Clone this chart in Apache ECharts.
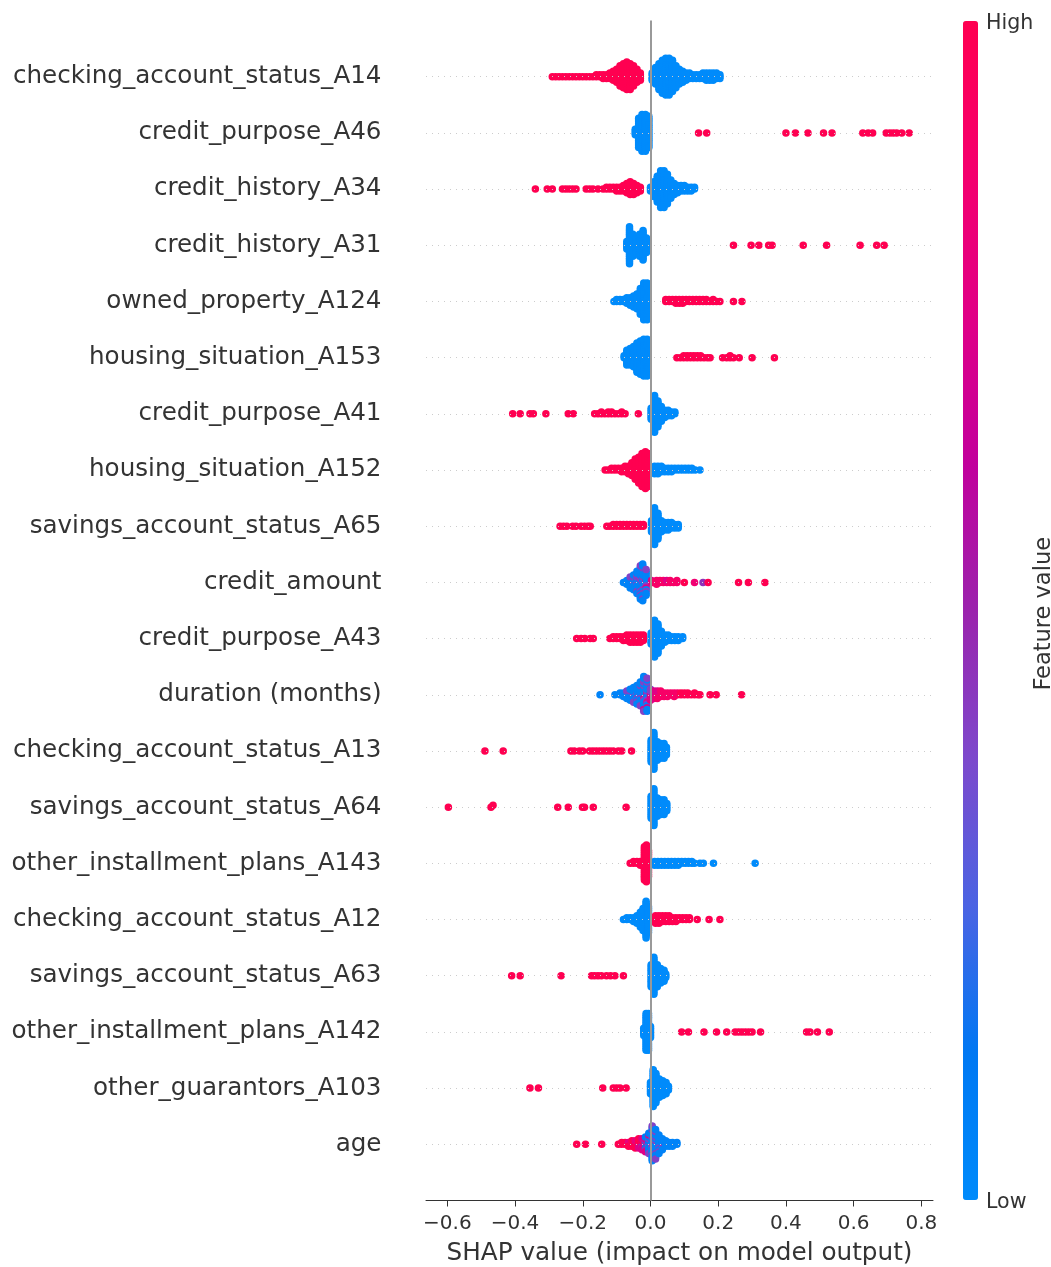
<!DOCTYPE html>
<html>
<head>
<meta charset="utf-8">
<script src="https://cdn.jsdelivr.net/npm/echarts@6/dist/echarts.min.js"></script>
<style>
html,body{margin:0;padding:0;background:#ffffff;}
#chart{width:1051px;height:1267px;}
</style>
</head>
<body>
<div id="chart"></div>
<script>
// Feature labels, top to bottom
const featureNames = [
  'checking_account_status_A14','credit_purpose_A46','credit_history_A34','credit_history_A31',
  'owned_property_A124','housing_situation_A153','credit_purpose_A41','housing_situation_A152',
  'savings_account_status_A65','credit_amount','credit_purpose_A43','duration (months)',
  'checking_account_status_A13','savings_account_status_A64','other_installment_plans_A143',
  'checking_account_status_A12','savings_account_status_A63','other_installment_plans_A142',
  'other_guarantors_A103','age'
];

// Each entry: [SHAP value, number of samples at that value, feature value (0 = low, 1 = high)]
const checking_account_status_A14 = [
  [-0.29,1,1],[-0.28,1,1],[-0.27,1,1],[-0.26,1,1],[-0.25,1,1],[-0.24,1,1],[-0.23,1,1],[-0.22,1,1],
  [-0.21,1,1],[-0.20,1,1],[-0.19,1,1],[-0.18,1,1],[-0.17,1,1],[-0.16,2,1],[-0.15,2,1],[-0.14,3,1],
  [-0.13,3,1],[-0.12,4,1],[-0.11,6,1],[-0.10,8,1],[-0.09,12,1],[-0.08,14,1],[-0.07,16,1],[-0.06,15,1],
  [-0.05,12,1],[-0.04,8,1],[-0.03,5,1],
  [0.005,5,0],[0.015,10,0],[0.025,15,0],[0.035,19,0],[0.045,21,0],[0.055,21,0],[0.065,18,0],[0.075,13,0],
  [0.085,9,0],[0.095,7,0],[0.105,5,0],[0.115,4,0],[0.125,3,0],[0.135,3,0],[0.145,3,0],[0.155,4,0],
  [0.165,5,0],[0.175,5,0],[0.185,5,0],[0.195,4,0],[0.205,3,0]
];
const credit_purpose_A46 = [
  [-0.045,4,0],[-0.035,17,0],[-0.025,21,0],[-0.015,21,0],[-0.005,18,0],
  [0.142,1,1],[0.166,1,1],[0.400,1,1],[0.428,1,1],[0.465,1,1],[0.511,1,1],[0.536,1,1],[0.627,1,1],
  [0.643,1,1],[0.656,1,1],[0.696,1,1],[0.707,1,1],[0.717,1,1],[0.727,1,1],[0.742,1,1],[0.764,1,1]
];
const credit_history_A34 = [
  [-0.34,1,1],[-0.305,1,1],[-0.29,1,1],[-0.26,1,1],[-0.25,1,1],[-0.24,1,1],[-0.23,1,1],[-0.22,1,1],
  [-0.19,1,1],[-0.18,1,1],[-0.17,1,1],[-0.155,1,1],[-0.14,1,1],[-0.13,2,1],[-0.12,2,1],[-0.11,2,1],
  [-0.10,3,1],[-0.09,3,1],[-0.08,4,1],[-0.07,6,1],[-0.06,8,1],[-0.05,7,1],[-0.04,5,1],[-0.03,3,1],
  [0.0,3,0],[0.01,9,0],[0.02,15,0],[0.03,21,0],[0.04,21,0],[0.05,17,0],[0.06,11,0],[0.07,7,0],
  [0.08,5,0],[0.09,4,0],[0.10,4,0],[0.11,3,0],[0.12,3,0],[0.13,2,0]
];
const credit_history_A31 = [
  [-0.07,5,0],[-0.062,21,0],[-0.052,13,0],[-0.042,9,0],[-0.032,13,0],[-0.022,17,0],[-0.012,9,0],
  [0.245,1,1],[0.297,1,1],[0.320,1,1],[0.349,1,1],[0.359,1,1],[0.451,1,1],[0.520,1,1],[0.619,1,1],
  [0.668,1,1],[0.690,1,1]
];
const owned_property_A124 = [
  [-0.108,1,0],[-0.10,2,0],[-0.09,2,0],[-0.08,2,0],[-0.07,4,0],[-0.06,5,0],[-0.05,7,0],[-0.04,9,0],
  [-0.03,15,0],[-0.02,21,0],[-0.01,21,0],
  [0.045,2,1],[0.055,2,1],[0.065,2,1],[0.075,3,1],[0.085,3,1],[0.095,3,1],[0.105,2,1],[0.115,2,1],
  [0.125,2,1],[0.135,2,1],[0.145,2,1],[0.155,2,1],[0.165,2,1],[0.175,1,1],[0.185,2,1],[0.195,1,1],
  [0.205,1,1],[0.245,1,1],[0.27,1,1]
];
const housing_situation_A153 = [
  [-0.078,2,0],[-0.07,9,0],[-0.06,10,0],[-0.05,12,0],[-0.04,17,0],[-0.03,19,0],[-0.02,21,0],[-0.01,21,0],
  [0.078,1,1],[0.088,1,1],[0.098,2,1],[0.108,2,1],[0.118,2,1],[0.128,2,1],[0.138,2,1],[0.148,2,1],
  [0.158,1,1],[0.168,1,1],[0.176,1,1],[0.213,1,1],[0.225,1,1],[0.235,2,1],[0.245,1,1],[0.262,1,1],
  [0.30,1,1],[0.366,1,1]
];
const credit_purpose_A41 = [
  [-0.407,1,1],[-0.385,1,1],[-0.356,1,1],[-0.346,1,1],[-0.309,1,1],[-0.243,1,1],[-0.228,1,1],
  [-0.165,1,1],[-0.155,1,1],[-0.145,2,1],[-0.135,1,1],[-0.125,2,1],[-0.115,2,1],[-0.105,1,1],
  [-0.095,1,1],[-0.085,2,1],[-0.075,1,1],[-0.036,1,1],
  [0.002,7,0],[0.012,21,0],[0.022,15,0],[0.032,9,0],[0.042,5,0],[0.052,4,0],[0.062,3,0],[0.072,2,0]
];
const housing_situation_A152 = [
  [-0.134,1,1],[-0.125,1,1],[-0.115,2,1],[-0.105,2,1],[-0.095,2,1],[-0.085,3,1],[-0.075,4,1],
  [-0.065,5,1],[-0.055,8,1],[-0.045,12,1],[-0.035,15,1],[-0.025,19,1],[-0.015,21,1],[-0.007,19,1],
  [0.012,5,0],[0.022,5,0],[0.032,4,0],[0.042,3,0],[0.052,3,0],[0.062,3,0],[0.072,2,0],[0.082,2,0],
  [0.092,2,0],[0.102,2,0],[0.112,2,0],[0.122,2,0],[0.132,1,0],[0.146,1,0]
];
const savings_account_status_A65 = [
  [-0.267,1,1],[-0.257,1,1],[-0.247,1,1],[-0.23,1,1],[-0.22,1,1],[-0.205,1,1],[-0.195,1,1],
  [-0.185,1,1],[-0.178,1,1],
  [-0.129,1,1],[-0.12,1,1],[-0.11,2,1],[-0.10,2,1],[-0.09,2,1],[-0.08,2,1],[-0.07,2,1],[-0.06,2,1],
  [-0.05,2,1],[-0.04,2,1],[-0.03,2,1],[-0.021,2,1],
  [0.003,7,0],[0.012,21,0],[0.022,15,0],[0.032,7,0],[0.042,5,0],[0.052,5,0],[0.062,4,0],[0.072,3,0],
  [0.082,3,0]
];
const credit_amount = [
  [-0.08,1,0.05],[-0.07,3,0.05],[-0.06,6,0.05],[-0.06,1,0.4],[-0.05,7,0.05],[-0.05,2,0.4],
  [-0.04,9,0.05],[-0.04,4,0.4],[-0.03,14,0.05],[-0.03,5,0.4],[-0.023,14,0.05],[-0.023,7,0.4],
  [-0.013,9,0.05],[-0.013,4,0.4],[-0.013,2,0.75],
  [0.003,2,0.75],[0.008,1,0.9],[0.018,2,0.9],[0.018,1,0.75],[0.028,2,0.9],[0.038,2,0.9],
  [0.048,1,0.9],[0.048,1,0.75],[0.058,2,0.9],[0.068,1,0.9],[0.078,2,0.9],[0.10,1,1],[0.13,1,0.85],
  [0.155,1,0.45],[0.17,1,1],[0.26,1,1],[0.289,1,1],[0.338,1,1]
];
const credit_purpose_A43 = [
  [-0.218,1,1],[-0.205,1,1],[-0.194,1,1],[-0.178,1,1],[-0.169,1,1],
  [-0.12,1,1],[-0.11,2,1],[-0.10,2,1],[-0.09,2,1],[-0.08,3,1],[-0.07,4,1],[-0.06,5,1],[-0.05,5,1],
  [-0.04,5,1],[-0.03,5,1],[-0.021,4,1],
  [0.002,7,0],[0.012,21,0],[0.022,17,0],[0.032,9,0],[0.042,5,0],[0.052,4,0],[0.062,3,0],[0.072,3,0],
  [0.082,3,0],[0.095,2,0]
];
const duration_months = [
  [-0.149,1,0.05],[-0.105,1,0.05],[-0.09,2,0.05],[-0.08,3,0.05],[-0.07,4,0.05],[-0.07,1,0.4],
  [-0.06,5,0.05],[-0.06,2,0.4],[-0.05,7,0.05],[-0.05,2,0.4],[-0.04,8,0.05],[-0.04,3,0.4],
  [-0.03,10,0.05],[-0.03,4,0.4],[-0.02,12,0.05],[-0.02,6,0.4],[-0.02,2,0.75],[-0.01,10,0.05],
  [-0.01,6,0.4],[-0.01,3,0.75],[0.0,3,0.4],[0.0,4,0.75],[0.01,4,0.75],[0.01,1,0.9],[0.02,3,0.75],
  [0.02,2,0.9],[0.03,1,0.75],[0.03,3,0.9],[0.04,3,0.9],[0.05,3,0.9],[0.06,2,0.9],[0.07,3,0.9],
  [0.08,2,0.9],[0.09,2,1],[0.10,2,1],[0.11,2,1],[0.12,1,1],[0.13,2,1],[0.14,1,1],[0.146,1,1],
  [0.176,1,1],[0.194,1,1],[0.269,1,1]
];
const checking_account_status_A13 = [
  [-0.489,1,1],[-0.435,1,1],[-0.235,1,1],[-0.225,1,1],[-0.21,1,1],[-0.20,1,1],[-0.18,1,1],[-0.17,1,1],
  [-0.16,1,1],[-0.15,1,1],[-0.14,1,1],[-0.13,1,1],[-0.12,1,1],[-0.11,1,1],[-0.095,1,1],[-0.085,1,1],
  [-0.056,1,1],
  [0.002,13,0],[0.01,21,0],[0.02,11,0],[0.03,9,0],[0.04,9,0],[0.047,5,0]
];
const savings_account_status_A64 = [
  [-0.597,1,1],[-0.471,1,1],[-0.465,1,1],[-0.274,1,1],[-0.243,1,1],[-0.201,1,1],[-0.195,1,1],
  [-0.169,1,1],[-0.072,1,1],
  [0.002,13,0],[0.01,21,0],[0.02,11,0],[0.03,9,0],[0.04,9,0],[0.048,5,0]
];
const other_installment_plans_A143 = [
  [-0.06,1,1],[-0.05,2,1],[-0.04,2,1],[-0.03,3,1],[-0.018,19,1],[-0.012,21,1],[-0.006,15,1],
  [0.012,3,0],[0.022,3,0],[0.032,3,0],[0.042,3,0],[0.052,3,0],[0.062,3,0],[0.072,3,0],[0.082,3,0],
  [0.092,2,0],[0.102,2,0],[0.112,2,0],[0.122,2,0],[0.13,1,0],[0.146,1,0],[0.156,1,0],[0.186,1,0],
  [0.309,1,0]
];
const checking_account_status_A12 = [
  [-0.08,1,0],[-0.07,2,0],[-0.06,2,0],[-0.05,3,0],[-0.04,5,0],[-0.03,9,0],[-0.022,13,0],[-0.013,21,0],
  [-0.006,15,0],
  [0.015,5,1],[0.025,5,1],[0.035,4,1],[0.045,4,1],[0.055,4,1],[0.065,3,1],[0.075,3,1],[0.085,2,1],
  [0.095,2,1],[0.105,2,1],[0.115,2,1],[0.138,1,1],[0.173,1,1],[0.205,1,1]
];
const savings_account_status_A63 = [
  [-0.41,1,1],[-0.385,1,1],[-0.264,1,1],[-0.174,1,1],[-0.165,1,1],[-0.155,1,1],[-0.145,1,1],
  [-0.13,1,1],[-0.118,1,1],[-0.105,1,1],[-0.08,1,1],
  [0.002,13,0],[0.01,21,0],[0.02,13,0],[0.03,9,0],[0.04,7,0],[0.045,3,0]
];
const other_installment_plans_A142 = [
  [-0.02,5,0],[-0.013,21,0],[-0.006,21,0],[0.0,7,0],
  [0.092,1,1],[0.112,1,1],[0.158,1,1],[0.195,1,1],[0.225,1,1],[0.25,1,1],[0.26,1,1],[0.27,1,1],
  [0.28,1,1],[0.29,1,1],[0.30,1,1],[0.325,1,1],[0.461,1,1],[0.471,1,1],[0.493,1,1],[0.528,1,1]
];
const other_guarantors_A103 = [
  [-0.356,1,1],[-0.331,1,1],[-0.141,1,1],[-0.11,1,1],[-0.10,1,1],[-0.09,1,1],[-0.072,1,1],
  [0.0,7,0],[0.008,21,0],[0.016,17,0],[0.026,11,0],[0.036,9,0],[0.046,7,0],[0.053,3,0]
];
const age = [
  [-0.218,1,1],[-0.192,1,1],[-0.144,1,1],[-0.095,1,1],[-0.085,2,1],[-0.075,2,1],[-0.065,2,1],
  [-0.065,1,0.8],[-0.055,3,1],[-0.055,1,0.8],[-0.045,3,1],[-0.045,2,0.8],[-0.035,3,1],[-0.035,3,0.75],
  [-0.025,2,1],[-0.025,4,0.75],[-0.025,1,0.45],[-0.015,3,0.75],[-0.015,3,0.45],[-0.015,3,0.1],
  [-0.005,1,0.75],[-0.005,4,0.4],[-0.005,7,0.1],[0.005,6,0.4],[0.005,14,0.05],[0.015,5,0.4],
  [0.015,12,0.05],[0.025,2,0.4],[0.025,9,0.05],[0.035,1,0.4],[0.035,6,0.05],[0.045,4,0.05],
  [0.055,3,0.05],[0.065,3,0.05],[0.078,2,0.05]
];

const xTicks = [-0.6, -0.4, -0.2, 0.0, 0.2, 0.4, 0.6, 0.8];

const featureRows = [
  checking_account_status_A14, credit_purpose_A46, credit_history_A34, credit_history_A31,
  owned_property_A124, housing_situation_A153, credit_purpose_A41, housing_situation_A152,
  savings_account_status_A65, credit_amount, credit_purpose_A43, duration_months,
  checking_account_status_A13, savings_account_status_A64, other_installment_plans_A143,
  checking_account_status_A12, savings_account_status_A63, other_installment_plans_A142,
  other_guarantors_A103, age
];

// SHAP-style beeswarm layout (deterministic)
function beeswarm(clumps, rowPos) {
  const pts = [];
  clumps.forEach((c, ci) => {
    for (let j = 0; j < c[1]; j++) {
      const key = ((j + 1) * 0.6180339887 + ci * 0.4142135) % 1;
      pts.push({ x: c[0], fv: c[2], key: key, ci: ci, j: j });
    }
  });
  const xs = pts.map(p => p.x);
  const mn = Math.min.apply(null, xs), mx = Math.max.apply(null, xs);
  const nbins = 100;
  pts.forEach(p => { p.q = Math.round(nbins * (p.x - mn) / (mx - mn + 1e-8)); });
  pts.sort((a, b) => (a.q - b.q) || (a.key - b.key) || (a.ci - b.ci));
  let layer = 0, last = -1;
  pts.forEach(p => {
    if (p.q !== last) layer = 0;
    p.ys = Math.ceil(layer / 2) * ((layer % 2) * 2 - 1);
    layer++;
    last = p.q;
  });
  const m = Math.max.apply(null, pts.map(p => p.ys)) + 1;
  const rowHeight = 0.4;
  return pts.map(p => [p.x, rowPos + p.ys * 0.9 * rowHeight / m, p.fv]);
}

const nRows = featureNames.length;
let points = [];
featureRows.forEach((row, i) => { points = points.concat(beeswarm(row, nRows - 1 - i)); });

const FONT = 'DejaVu Sans';
const X_MIN = -0.66302, X_MAX = 0.83432;

const chart = echarts.init(document.getElementById('chart'), null, { renderer: 'canvas' });
chart.setOption({
  backgroundColor: '#ffffff',
  animation: false,
  grid: { left: 426, right: 118, top: 20.5, bottom: 66.5, outerBoundsMode: 'none', containLabel: false },
  xAxis: {
    type: 'value', min: X_MIN, max: X_MAX,
    axisLine: { show: true, onZero: false, lineStyle: { color: '#333333', width: 1 } },
    axisTick: { show: true, length: 6, lineStyle: { color: '#333333', width: 1 }, customValues: xTicks },
    axisLabel: {
      customValues: xTicks, margin: 13.5, color: '#333333', fontFamily: FONT, fontSize: 20,
      formatter: v => (v < -1e-9 ? '\u2212' : '') + Math.abs(v).toFixed(1)
    },
    splitLine: { show: false },
    name: 'SHAP value (impact on model output)', nameLocation: 'middle', nameGap: 40.5,
    nameTextStyle: { color: '#333333', fontFamily: FONT, fontSize: 24.7 }
  },
  yAxis: {
    type: 'value', min: -1, max: nRows, interval: 1,
    axisLine: { show: false }, axisTick: { show: false }, splitLine: { show: false },
    axisLabel: {
      margin: 44.5, color: '#333333', fontFamily: FONT, fontSize: 24.6, padding: [6, 0, 0, 0],
      formatter: v => { const i = nRows - 1 - Math.round(v); return (i >= 0 && i < nRows) ? featureNames[i] : ''; }
    }
  },
  visualMap: {
    type: 'continuous', min: 0, max: 1, dimension: 2, seriesIndex: 1,
    orient: 'vertical', left: 963, top: 21, itemWidth: 15, itemHeight: 1179, padding: 0,
    calculable: false, hoverLink: false, text: null, show: true,
    inRange: { color: ['#008bfb','#0078f3','#4b63e3','#7d49cc','#9b23ad','#c2009c','#e00086','#f5006d','#ff0051'] }
  },
  series: [
    {
      type: 'scatter', data: [], z: 1, silent: true,
      markLine: {
        silent: true, symbol: 'none', label: { show: false }, animation: false,
        lineStyle: { color: '#cccccc', width: 1, type: [1, 5] },
        data: featureNames.map((_, i) => ({ yAxis: nRows - 1 - i }))
      }
    },
    {
      type: 'scatter', data: points, z: 2, symbol: 'circle', symbolSize: 7.5,
      silent: true, progressive: 0, large: false,
      itemStyle: { opacity: 1 }, emphasis: { disabled: true }
    },
    {
      type: 'scatter', data: [], z: 3, silent: true,
      markLine: {
        silent: true, symbol: 'none', label: { show: false }, animation: false,
        lineStyle: { color: '#999999', width: 2, type: 'solid' },
        data: [{ xAxis: 0 }]
      }
    }
  ],
  graphic: [
    { type: 'text', x: 986, y: 23.5, style: { text: 'High', fill: '#333333', font: '20.6px "DejaVu Sans"', textAlign: 'left', textVerticalAlign: 'middle', align: 'left', verticalAlign: 'middle' } },
    { type: 'text', x: 986, y: 1203, style: { text: 'Low', fill: '#333333', font: '20.6px "DejaVu Sans"', textAlign: 'left', textVerticalAlign: 'middle', align: 'left', verticalAlign: 'middle' } },
    { type: 'text', x: 1044, y: 613.8, rotation: Math.PI / 2, style: { text: 'Feature value', fill: '#333333', font: '22.5px "DejaVu Sans"', textAlign: 'center', textVerticalAlign: 'middle', align: 'center', verticalAlign: 'middle' } }
  ]
});
</script>
</body>
</html>
